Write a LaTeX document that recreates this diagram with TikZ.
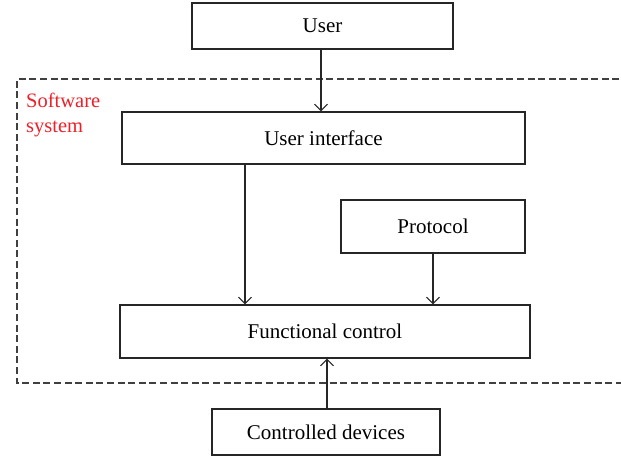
\documentclass[tikz,border=0pt]{standalone}
\usepackage{fontspec}
\setmainfont{Liberation Serif}
\usetikzlibrary{arrows.meta}
\definecolor{labelred}{RGB}{236,32,40}
\begin{document}
\begin{tikzpicture}[x=1pt,y=-1pt,
  block/.style={draw=black!85, line width=1.1pt, inner sep=0pt, font=\fontsize{21}{24}\selectfont},
  flow/.style={line width=1.1pt, draw=black!85, -{Straight Barb[length=6.5pt,width=13pt]}},
  frame/.style={line width=1.1pt, dash pattern=on 7pt off 3.6pt, draw=black!75}]
  \useasboundingbox (0,0) rectangle (621,456);
  % software system boundary (open on the right)
  \draw[frame] (630,79) -- (17,79) -- (17,383) -- (630,383);
  \node[anchor=north west, align=left, text=labelred, inner sep=0pt,
        font=\fontsize{20.5}{25.5}\selectfont] (sw) at (26,92.5) {Software\\system};
  % blocks
  \node[block, minimum width=261pt, minimum height=46pt] (user)  at (322.5,26)  {User};
  \node[block, minimum width=403pt, minimum height=52pt] (ui)    at (323.5,138) {User interface};
  \node[block, minimum width=184pt, minimum height=53pt] (proto) at (433,226.5) {Protocol};
  \node[block, minimum width=410pt, minimum height=53pt] (fc)    at (325,331.5) {Functional control};
  \node[block, minimum width=228pt, minimum height=46pt] (cd)    at (326,432)   {Controlled devices};
  % connectors
  \draw[flow] (user.south -| 321,0) -- (ui.north -| 321,0);
  \draw[flow] (ui.south -| 245,0) -- (fc.north -| 245,0);
  \draw[flow] (proto.south) -- (fc.north -| proto.south);
  \draw[flow] (cd.north -| 327,0) -- (fc.south -| 327,0);
\end{tikzpicture}
\end{document}
